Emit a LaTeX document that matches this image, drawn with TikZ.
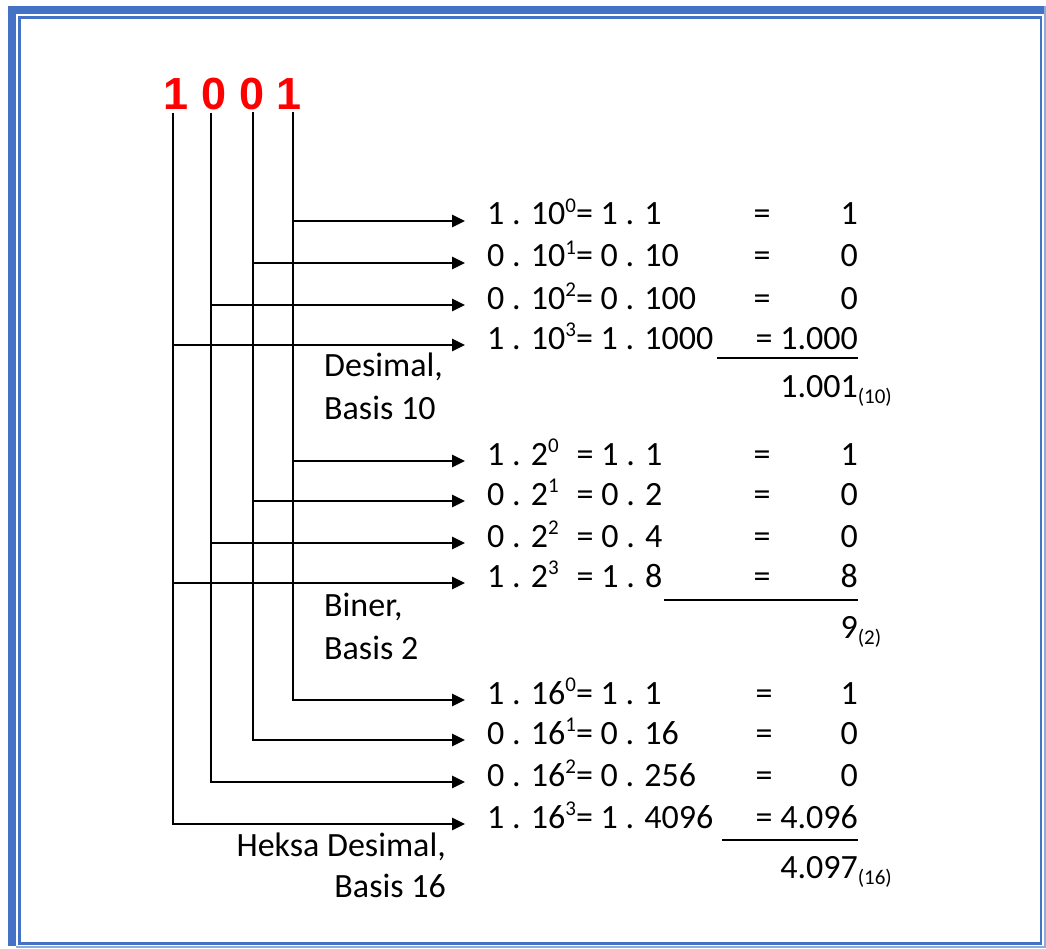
\documentclass[tikz,border=0pt]{standalone}
\usepackage{fontspec}
\setmainfont{Carlito}
\newfontfamily\digfont{Liberation Sans}
\usetikzlibrary{arrows.meta}
\definecolor{frameblue}{HTML}{4472C4}
\definecolor{framelight}{HTML}{8FAADC}
\newcommand\sups[1]{\raisebox{0.36em}{\fontsize{21}{21}\selectfont #1}}
\newcommand\subs[1]{\raisebox{-0.2em}{\fontsize{21}{21}\selectfont #1}}
\begin{document}
\begin{tikzpicture}[x=1pt,y=-1pt,
  txt/.style={font=\fontsize{34}{40}\selectfont, inner sep=0pt, anchor=base west},
  txtr/.style={font=\fontsize{34}{40}\selectfont, inner sep=0pt, anchor=base east},
  txtc/.style={font=\fontsize{34}{40}\selectfont, inner sep=0pt, anchor=base},
  digit/.style={font=\digfont\bfseries\fontsize{45}{48}\selectfont, text=red, inner sep=0pt},
  wire/.style={line width=2.8pt, black},
  arr/.style={wire, -{Triangle[length=13pt,width=12pt]}},
  sumline/.style={line width=2.8pt, black}]
\useasboundingbox (0,0) rectangle (1046,949);
\fill[white] (0,0) rectangle (1046,949);
% frame
\fill[frameblue] (8,6) rectangle (16,946);
\fill[frameblue] (8,6) rectangle (1044,14);
\draw[framelight, line width=1.5pt] (1045,6) -- (1045,947) -- (16,947);
\draw[frameblue, line width=2.5pt] (19.5,17.5) rectangle (1041,943.5);
% top digits
\node[digit] (d1) at (176,94) {1};
\node[digit] (d2) at (214,94) {0};
\node[digit] (d3) at (252,94) {0};
\node[digit] (d4) at (289,94) {1};
% wire tops
\coordinate (w1) at (173,113);
\coordinate (w2) at (211,113);
\coordinate (w3) at (253,112);
\coordinate (w4) at (293,112);
% arrow targets
\foreach \n/\y in {a1/221,a2/263,a3/305,a4/345,b1/461,b2/501,b3/543,b4/583,h1/700,h2/740,h3/782,h4/824}
  \coordinate (\n) at (465,\y);
% vertical wires ending in corner arrows
\draw[arr] (w4) |- (h1);
\draw[arr] (w3) |- (h2);
\draw[arr] (w2) |- (h3);
\draw[arr] (w1) |- (h4);
% branches
\draw[arr] (w4 |- a1) -- (a1);
\draw[arr] (w3 |- a2) -- (a2);
\draw[arr] (w2 |- a3) -- (a3);
\draw[arr] (w1 |- a4) -- (a4);
\draw[arr] (w4 |- b1) -- (b1);
\draw[arr] (w3 |- b2) -- (b2);
\draw[arr] (w2 |- b3) -- (b3);
\draw[arr] (w1 |- b4) -- (b4);
% Decimal rows
\node[txt] (ea1) at (487,225) {1 . 10\sups{0}= 1 . 1};
\node[txtc] (qa1) at (762,225) {=};
\node[txtr] (ra1) at (858,225) {1};
\node[txt] (ea2) at (487,267) {0 . 10\sups{1}= 0 . 10};
\node[txtc] (qa2) at (762,267) {=};
\node[txtr] (ra2) at (858,267) {0};
\node[txt] (ea3) at (487,309) {0 . 10\sups{2}= 0 . 100};
\node[txtc] (qa3) at (762,309) {=};
\node[txtr] (ra3) at (858,309) {0};
\node[txt] (ea4) at (487,349) {1 . 10\sups{3}= 1 . 1000};
\node[txtr] (ra4) at (858,349) {= 1.000};
\coordinate (ua0) at (717,358);
\coordinate (ua1) at (858,358);
\draw[sumline] (ua0) -- (ua1);
\node[txtr] (sa) at (858,397) {1.001\rlap{\subs{(10)}}};
\node[txt] (la1) at (324,376) {Desimal,};
\node[txt] (la2) at (324,419) {Basis 10};
% Binary rows
\node[txt] (eb1) at (487,465) {1 . 2\sups{0}\hspace{0.3em} = 1 . 1};
\node[txtc] (qb1) at (762,465) {=};
\node[txtr] (rb1) at (858,465) {1};
\node[txt] (eb2) at (487,505) {0 . 2\sups{1}\hspace{0.3em} = 0 . 2};
\node[txtc] (qb2) at (762,505) {=};
\node[txtr] (rb2) at (858,505) {0};
\node[txt] (eb3) at (487,547) {0 . 2\sups{2}\hspace{0.3em} = 0 . 4};
\node[txtc] (qb3) at (762,547) {=};
\node[txtr] (rb3) at (858,547) {0};
\node[txt] (eb4) at (487,587) {1 . 2\sups{3}\hspace{0.3em} = 1 . 8};
\node[txtc] (qb4) at (762,587) {=};
\node[txtr] (rb4) at (858,587) {8};
\coordinate (ub0) at (664,600);
\coordinate (ub1) at (858,600);
\draw[sumline] (ub0) -- (ub1);
\node[txtr] (sb) at (858,638) {9\rlap{\subs{(2)}}};
\node[txt] (lb1) at (324,616) {Biner,};
\node[txt] (lb2) at (324,659) {Basis 2};
% Hex rows
\node[txt] (eh1) at (487,704) {1 . 16\sups{0}= 1 . 1};
\node[txtc] (qh1) at (764,704) {=};
\node[txtr] (rh1) at (858,704) {1};
\node[txt] (eh2) at (487,744) {0 . 16\sups{1}= 0 . 16};
\node[txtc] (qh2) at (764,744) {=};
\node[txtr] (rh2) at (858,744) {0};
\node[txt] (eh3) at (487,786) {0 . 16\sups{2}= 0 . 256};
\node[txtc] (qh3) at (764,786) {=};
\node[txtr] (rh3) at (858,786) {0};
\node[txt] (eh4) at (487,828) {1 . 16\sups{3}= 1 . 4096};
\node[txtr] (rh4) at (858,828) {= 4.096};
\coordinate (uh0) at (722,840);
\coordinate (uh1) at (858,840);
\draw[sumline] (uh0) -- (uh1);
\node[txtr] (sh) at (858,878) {4.097\rlap{\subs{(16)}}};
\node[txtr] (lh1) at (446,856) {Heksa Desimal,};
\node[txtr] (lh2) at (446,897) {Basis 16};
\end{tikzpicture}
\end{document}
